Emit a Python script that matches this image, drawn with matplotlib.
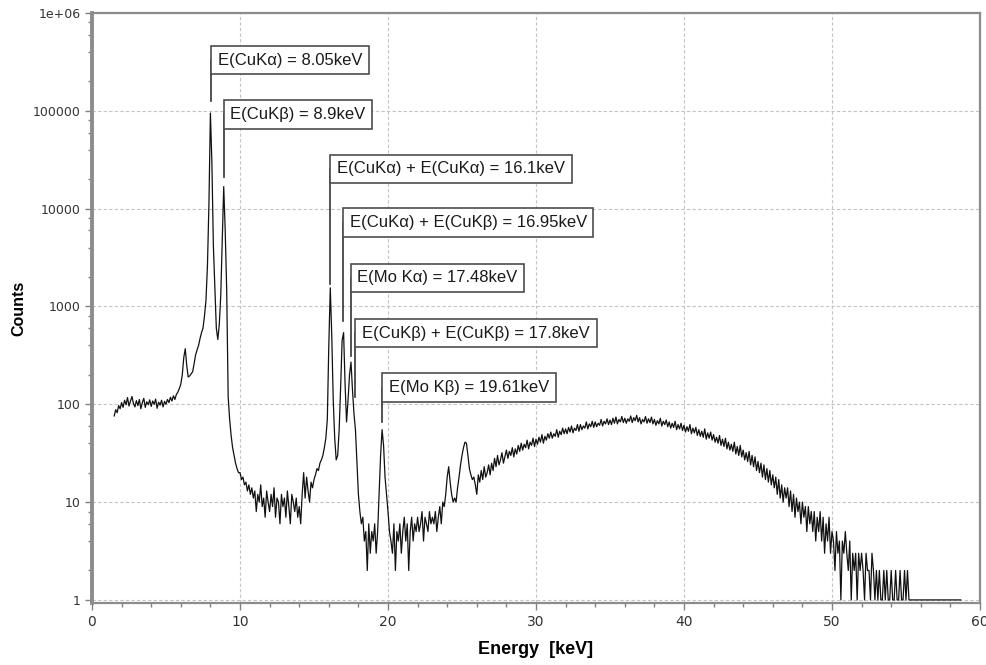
import numpy as np
import matplotlib
matplotlib.use("Agg")
import matplotlib.pyplot as plt
from matplotlib.ticker import FixedLocator, FuncFormatter, MultipleLocator, LogLocator
from matplotlib.transforms import offset_copy

# ---------------------------
# SPECTRUM DATA (channels of 0.1 keV starting at 1.5 keV)
# ---------------------------
E_START = 1.5
E_STEP = 0.1

counts_01_09 = [76, 88, 82, 97, 90,
                104, 93, 110, 99, 117, 96, 108, 120, 102, 94,
                109, 97, 112, 90, 104, 115, 93, 106, 99, 111,
                95, 108, 100, 113, 91, 105, 98, 110, 94, 107,
                100, 112, 104, 118, 108, 122, 112, 126, 133, 145,
                160, 200, 300, 370, 250, 190, 195, 205, 215, 260,
                320, 360, 400, 470, 540, 600, 800, 1150, 2600, 11000,
                95000, 30000, 4200, 1600, 600, 460, 650, 1300, 4500, 16800,
                6000, 1500, 120, 70, 48, 36, 30, 25, 22, 20]

counts_10_19 = [20, 17, 18, 15, 16, 13, 15, 12, 14, 11,
                13, 8, 12, 10, 15, 9, 11, 7, 13, 10,
                8, 12, 9, 14, 7, 11, 10, 6, 12, 9,
                11, 7, 13, 9, 6, 12, 10, 8, 11, 7,
                9, 6, 12, 20, 11, 18, 13, 10, 16, 14,
                17, 19, 22, 21, 25, 27, 30, 36, 45, 70,
                400, 1550, 500, 110, 45, 27, 30, 55, 150, 450,
                540, 160, 66, 110, 200, 270, 140, 80, 55, 25,
                12, 8, 6, 7, 4, 5, 2, 6, 3, 5,
                4, 6, 3, 5, 12, 30, 55, 38, 18, 12]

counts_20_29 = [8, 5, 4, 3, 6, 2, 5, 4, 6, 3,
                5, 7, 4, 6, 2, 5, 7, 4, 6, 5,
                7, 5, 6, 8, 4, 7, 6, 5, 8, 6,
                7, 6, 8, 5, 7, 9, 6, 10, 9, 12,
                18, 23, 16, 12, 10, 11, 10, 14, 18, 24,
                30, 36, 41, 40, 30, 22, 19, 17, 18, 15,
                12, 19, 16, 21, 17, 23, 18, 20, 24, 19,
                25, 21, 28, 23, 30, 24, 27, 32, 25, 29,
                34, 28, 33, 30, 36, 29, 35, 31, 38, 33,
                40, 34, 39, 36, 43, 35, 41, 38, 45, 37]

counts_30_39 = [44, 39, 46, 41, 49, 40, 47, 43, 50, 45,
                52, 45, 50, 47, 55, 46, 53, 49, 57, 50,
                56, 50, 58, 52, 60, 51, 57, 54, 62, 53,
                62, 55, 60, 57, 66, 56, 63, 59, 67, 58,
                66, 59, 64, 61, 70, 60, 67, 63, 71, 62,
                69, 62, 72, 64, 74, 63, 70, 66, 75, 65,
                72, 64, 71, 67, 76, 65, 73, 68, 77, 66,
                73, 63, 70, 66, 75, 64, 71, 65, 74, 63,
                70, 61, 68, 63, 72, 60, 67, 62, 69, 59,
                66, 57, 64, 58, 67, 55, 62, 56, 64, 54]

counts_40_49 = [61, 52, 59, 53, 62, 50, 57, 51, 58, 48,
                55, 47, 53, 46, 56, 44, 51, 45, 52, 43,
                49, 41, 46, 40, 48, 38, 44, 37, 45, 35,
                41, 34, 39, 33, 41, 31, 37, 30, 38, 29,
                34, 27, 32, 26, 33, 24, 30, 23, 29, 21,
                26, 20, 25, 18, 24, 17, 22, 16, 21, 15,
                19, 14, 18, 12, 17, 11, 15, 10, 14, 11,
                14, 9, 13, 8, 12, 7, 11, 8, 10, 6,
                10, 7, 9, 5, 9, 6, 8, 5, 8, 4,
                7, 5, 8, 4, 7, 3, 6, 4, 7, 3]

counts_50_58 = [5, 4, 2, 5, 3, 4, 1, 4, 3, 5,
                3, 2, 4, 1, 3, 2, 3, 1, 3, 2,
                3, 2, 1, 3, 2, 2, 1, 3, 2, 1,
                2, 1, 2, 1, 1, 2, 1, 2, 1, 1,
                2, 1, 1, 2, 1, 1, 2, 1, 1, 2,
                1, 2, 1, 1, 1, 1, 1, 1, 1, 1,
                1, 1, 1, 1, 1, 1, 1, 1, 1, 1,
                1, 1, 1, 1, 1, 1, 1, 1, 1, 1,
                1, 1, 1, 1, 1, 1, 1, 1]

counts = np.array(counts_01_09 + counts_10_19 + counts_20_29 +
                  counts_30_39 + counts_40_49 + counts_50_58, dtype=float)
energy = E_START + E_STEP * np.arange(len(counts))

# ---------------------------
# PEAK LABELS
# ---------------------------
peak_labels = [
    "E(CuK\u03b1) = 8.05keV",
    "E(CuK\u03b2) = 8.9keV",
    "E(CuK\u03b1) + E(CuK\u03b1) = 16.1keV",
    "E(CuK\u03b1) + E(CuK\u03b2) = 16.95keV",
    "E(Mo K\u03b1) = 17.48keV",
    "E(CuK\u03b2) + E(CuK\u03b2) = 17.8keV",
    "E(Mo K\u03b2) = 19.61keV",
]
peak_energy = [8.05, 8.9, 16.1, 16.95, 17.48, 17.8, 19.61]
label_level = [3.3e5, 9.2e4, 2.56e4, 7.2e3, 1.96e3, 535, 148]
leader_tip = [1.26e5, 2.09e4, 1680, 702, 308, 120, 66]

# ---------------------------
# FIGURE
# ---------------------------
fig = plt.figure(figsize=(9.87, 6.65), dpi=100)
ax = fig.add_axes([92 / 987, 62 / 665, 888 / 987, 590 / 665])

ax.plot(energy, counts, color="#111111", lw=0.9, zorder=3)

ax.set_yscale("log")
ax.set_xlim(0, 60)
ax.set_ylim(0.93, 1e6)

ax.yaxis.set_major_locator(FixedLocator([1, 10, 100, 1000, 1e4, 1e5, 1e6]))
ax.yaxis.set_major_formatter(FuncFormatter(lambda v, p: "1e+06" if v >= 1e6 else f"{int(round(v))}"))
ax.yaxis.set_minor_locator(LogLocator(base=10, subs=(2, 4, 6, 8)))
ax.yaxis.set_minor_formatter(FuncFormatter(lambda v, p: ""))
ax.xaxis.set_major_locator(MultipleLocator(10))
ax.xaxis.set_minor_locator(MultipleLocator(2))

ax.grid(True, which="major", color="#c4c4c4", linestyle=(0, (3, 2)), lw=0.8, zorder=0)

for side in ["top", "right", "bottom"]:
    ax.spines[side].set_color("#8c8c8c")
    ax.spines[side].set_linewidth(1.6)
ax.spines["left"].set_color("#8c8c8c")
ax.spines["left"].set_linewidth(2.8)

ax.tick_params(axis="both", which="major", direction="out", length=5, width=1,
               color="#808080", labelcolor="#333333", labelsize=9)
ax.tick_params(axis="both", which="minor", direction="out", length=3, width=1, color="#808080")
ax.tick_params(axis="x", pad=4, labelsize=10)
ax.tick_params(axis="y", pad=3)

ax.set_xlabel("Energy  [keV]", fontsize=13, fontweight="bold", family="Liberation Sans", labelpad=8)
ax.set_ylabel("Counts", fontsize=11.5, fontweight="bold", family="Liberation Sans")
ax.yaxis.set_label_coords(-0.074, 0.5)

# ---------------------------
# ANNOTATIONS
# ---------------------------
fs = 12
pad = 0.4
text_trans = offset_copy(ax.transData, fig=fig, x=pad * fs, y=0, units="points")
for lbl, e, lvl, tip in zip(peak_labels, peak_energy, label_level, leader_tip):
    ax.plot([e, e], [lvl, tip], color="#333333", lw=1.2, zorder=4)
    ax.text(e, lvl, lbl, transform=text_trans, ha="left", va="center",
            fontsize=fs, family="Liberation Sans", color="#1a1a1a", zorder=5,
            bbox=dict(boxstyle=f"square,pad={pad}", fc="white", ec="#4d4d4d", lw=1.2))

plt.savefig("out.png", dpi=100)
